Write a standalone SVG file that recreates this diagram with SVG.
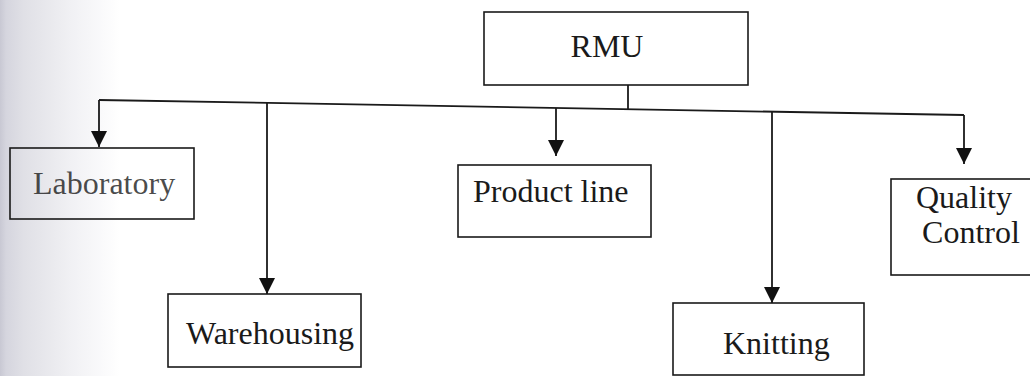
<svg xmlns="http://www.w3.org/2000/svg" width="1030" height="376" viewBox="0 0 1030 376">
<defs>
<linearGradient id="scan" x1="0" y1="0" x2="1" y2="0">
<stop offset="0" stop-color="#c8c8d3"/>
<stop offset="0.05" stop-color="#d5d5de"/>
<stop offset="0.2" stop-color="#e0e0e6"/>
<stop offset="0.6" stop-color="#f1f1f4"/>
<stop offset="1" stop-color="#ffffff"/>
</linearGradient>
<marker id="arr" markerUnits="userSpaceOnUse" markerWidth="17" markerHeight="17" refX="16" refY="8" orient="auto">
<path d="M0,0 L16,8 L0,16 Z" fill="#111"/>
</marker>
<style>
.box{fill:none;stroke:#1a1a1a;stroke-width:1.6}
.lbl{font-family:"Liberation Serif","Times New Roman",serif;font-size:32px;fill:#1a1a1a}
.conn{fill:none;stroke:#1a1a1a;stroke-width:1.8}
</style>
</defs>
<rect x="0" y="0" width="1030" height="376" fill="#fff"/>
<rect x="0" y="0" width="120" height="376" fill="url(#scan)"/>
<g id="connectors">
<line class="conn" x1="628" y1="85" x2="628" y2="109"/>
<line class="conn" x1="99" y1="100" x2="964" y2="115"/>
<line class="conn" x1="99" y1="100" x2="99" y2="147" marker-end="url(#arr)"/>
<line class="conn" x1="267" y1="103" x2="267" y2="294" marker-end="url(#arr)"/>
<line class="conn" x1="556" y1="108" x2="556" y2="156" marker-end="url(#arr)"/>
<line class="conn" x1="772" y1="112" x2="772" y2="303" marker-end="url(#arr)"/>
<line class="conn" x1="964" y1="115" x2="964" y2="164" marker-end="url(#arr)"/>
</g>
<g id="rmu">
<rect class="box" x="484" y="12" width="264" height="73"/>
<text class="lbl" x="607" y="57" text-anchor="middle">RMU</text>
</g>
<g id="laboratory">
<rect class="box" x="10" y="148" width="184" height="71"/>
<text class="lbl" x="33" y="194" fill-opacity="0.8">Laboratory</text>
</g>
<g id="warehousing">
<rect class="box" x="168" y="294" width="193" height="73"/>
<text class="lbl" x="186" y="344">Warehousing</text>
</g>
<g id="product-line">
<rect class="box" x="458" y="165" width="193" height="72"/>
<text class="lbl" x="473" y="202">Product line</text>
</g>
<g id="knitting">
<rect class="box" x="673" y="303" width="191" height="72"/>
<text class="lbl" x="723" y="354">Knitting</text>
</g>
<g id="quality-control">
<rect class="box" x="891" y="179" width="150" height="96"/>
<text class="lbl" x="964" y="208" text-anchor="middle">Quality</text>
<text class="lbl" x="971" y="243" text-anchor="middle">Control</text>
</g>
</svg>
